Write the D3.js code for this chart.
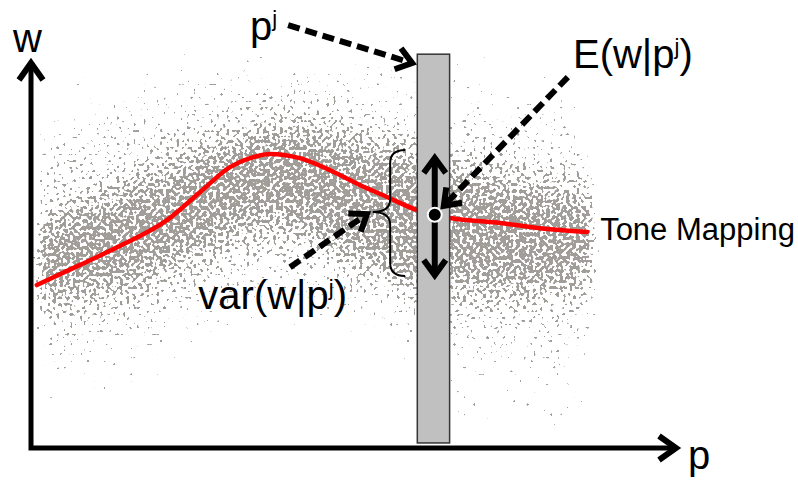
<!DOCTYPE html>
<html>
<head>
<meta charset="utf-8">
<script src="https://cdn.jsdelivr.net/npm/d3@7"></script>
<style>
  html, body { margin: 0; padding: 0; background: #fff; }
  svg { display: block; font-family: "Liberation Sans", Arial, sans-serif; }
</style>
</head>
<body>
<div id="chart"></div>
<script>
let width = 798,
    height = 480;

// tone mapping curve (p, w)
const curveP = [0.9, 7.6, 13.8, 21.1, 26.2, 30.8, 33.9, 37.0, 41.6, 46.3, 50.9, 55.1, 59.8, 62.5, 64.9, 72.6, 80.3, 86.1];
const curveW = [42.0, 47.2, 52.1, 58.8, 66.0, 72.4, 74.7, 75.8, 74.7, 71.6, 67.8, 64.7, 61.3, 60.1, 59.3, 58.0, 56.4, 55.7];

// envelopes of the scatter cloud: sparse outer, medium, dense core
const cloudP  = [0.6, 10.7, 18.4, 26.2, 37.0, 41.6, 57.1, 64.9, 72.6, 81.9, 87.6];
const outerHi = [92.0, 100.0, 104.0, 105.0, 105.5, 105.5, 106.0, 106.0, 104.5, 98.6, 88.0];
const outerLo = [6.0, 8.0, 15.6, 22.8, 28.5, 28.5, 17.7, 2.2, 0.0, 1.0, 17.7];
const midHi   = [78.0, 84.0, 88.0, 91.0, 92.0, 92.0, 89.0, 87.0, 86.0, 83.0, 76.0];
const midLo   = [24.0, 27.0, 31.0, 36.0, 42.0, 42.0, 35.0, 27.0, 22.0, 25.0, 30.0];
const coreHi  = [58.8, 65.2, 70.4, 76.8, 83.2, 83.2, 76.8, 72.9, 70.4, 67.8, 63.9];
const coreLo  = [36.9, 39.4, 43.3, 49.7, 56.2, 54.9, 43.3, 40.7, 39.4, 40.7, 43.3];

// slice p^j
const sliceP = [59.8, 64.8];
const sliceW = [1.3, 101.5];
const meanPoint = { p: 62.5, w: 60.1 };
const spreadW = [43.8, 75.5];
const brace = { p: 55.6, tipP: 52.9, top: 76.8, bottom: 44.3, mid: 60.8 };

// dashed pointer arrows [p0, w0, p1, w1]
const pointers = [
  [39.8, 109.0, 59.0, 99.2],
  [83.1, 95.6, 63.9, 62.4],
  [40.1, 46.6, 52.0, 60.3]
];

// labels
const labels = [
  { text: "w", p: -2.8, w: 102.1, size: 40 },
  { text: "p", p: 101.7, w: -5.4, size: 40 },
  { text: "p", sup: "j", p: 33.9, w: 105.2, size: 40 },
  { text: "E(w|p", sup: "j", after: ")", p: 83.9, w: 97.9, size: 40 },
  { text: "var(w|p", sup: "j", after: ")", p: 25.9, w: 35.8, size: 40 },
  { text: "Tone Mapping", p: 88.1, w: 53.6, size: 31 }
];

const x = d3.scaleLinear().domain([0, 100]).range([31, 677]);
const y = d3.scaleLinear().domain([0, 100]).range([448, 60]);

const svg = d3.select("#chart")
  .append("svg")
  .attr("width", width)
  .attr("height", height)
  .attr("viewBox", [0, 0, width, height]);

const defs = svg.append("defs");

// open chevron heads
defs.append("marker")
  .attr("id", "head")
  .attr("markerUnits", "userSpaceOnUse")
  .attr("viewBox", "-24 -16 30 32")
  .attr("markerWidth", 30).attr("markerHeight", 32)
  .attr("refX", 0).attr("refY", 0)
  .attr("orient", "auto-start-reverse")
  .append("path")
  .attr("d", "M-15,-11L0,0L-15,11")
  .attr("fill", "none")
  .attr("stroke", "#000")
  .attr("stroke-width", 6)
  .attr("stroke-linejoin", "miter");

// speckle filter: noise thresholded by blurred density
const f = defs.append("filter")
  .attr("id", "speckle")
  .attr("filterUnits", "userSpaceOnUse")
  .attr("x", 0).attr("y", 0).attr("width", width).attr("height", height)
  .attr("color-interpolation-filters", "sRGB");
f.append("feTurbulence")
  .attr("type", "fractalNoise")
  .attr("baseFrequency", 0.3)
  .attr("numOctaves", 1)
  .attr("seed", 7)
  .attr("result", "noise");
f.append("feGaussianBlur")
  .attr("in", "SourceAlpha")
  .attr("stdDeviation", "8 20")
  .attr("result", "dens");
f.append("feComposite")
  .attr("in", "dens").attr("in2", "noise")
  .attr("operator", "arithmetic")
  .attr("k1", 0).attr("k2", 0.7).attr("k3", 1).attr("k4", -0.95)
  .attr("result", "mix");
f.append("feColorMatrix")
  .attr("in", "mix")
  .attr("type", "matrix")
  .attr("values", "0 0 0 0 0.63  0 0 0 0 0.62  0 0 0 0 0.6  0 0 0 40 0");

defs.append("clipPath").attr("id", "cloudClip")
  .append("rect")
  .attr("x", x(cloudP[0]) - 2)
  .attr("y", 0)
  .attr("width", x(cloudP[cloudP.length - 1]) - x(cloudP[0]) + 4)
  .attr("height", y(0) - 3);

// scatter cloud
const cloud = svg.append("g").attr("clip-path", "url(#cloudClip)")
  .append("g").attr("filter", "url(#speckle)");

const band = (hi, lo) => d3.area()
  .x((d, i) => x(cloudP[i]))
  .y0((d, i) => y(lo[i]))
  .y1((d, i) => y(hi[i]))
  .curve(d3.curveCatmullRom)(cloudP);

[[outerHi, outerLo, 0.3], [midHi, midLo, 0.15], [coreHi, coreLo, 0.55]].forEach(([hi, lo, o]) => {
  cloud.append("path")
    .attr("d", band(hi, lo))
    .attr("fill", "#000")
    .attr("fill-opacity", o);
});

// tone mapping curve
svg.append("path")
  .datum(curveP.map((p, i) => [p, curveW[i]]))
  .attr("fill", "none")
  .attr("stroke", "#ff0000")
  .attr("stroke-width", 4.5)
  .attr("stroke-linecap", "round")
  .attr("d", d3.line().x(d => x(d[0])).y(d => y(d[1])).curve(d3.curveMonotoneX));

// axes
svg.append("path")
  .attr("d", `M${x(0)},${y(100) + 2}V${y(0)}H${x(100) - 2}`)
  .attr("fill", "none")
  .attr("stroke", "#000")
  .attr("stroke-width", 5)
  .attr("stroke-linejoin", "miter");
svg.append("path")
  .attr("d", `M${x(0) - 12},${y(100) + 20}L${x(0)},${y(100) + 3}L${x(0) + 12},${y(100) + 20}`)
  .attr("fill", "none").attr("stroke", "#000").attr("stroke-width", 6);
svg.append("path")
  .attr("d", `M${x(100) - 18},${y(0) - 12}L${x(100) - 1},${y(0)}L${x(100) - 18},${y(0) + 12}`)
  .attr("fill", "none").attr("stroke", "#000").attr("stroke-width", 6);

// slice bar
svg.append("rect")
  .attr("x", x(sliceP[0]))
  .attr("y", y(sliceW[1]))
  .attr("width", x(sliceP[1]) - x(sliceP[0]))
  .attr("height", y(sliceW[0]) - y(sliceW[1]))
  .attr("fill", "#c0c0c0")
  .attr("stroke", "#333")
  .attr("stroke-width", 1.5);

// spread double arrow
svg.append("line")
  .attr("x1", x(meanPoint.p)).attr("x2", x(meanPoint.p))
  .attr("y1", y(spreadW[1]) + 3).attr("y2", y(spreadW[0]) - 3)
  .attr("stroke", "#000")
  .attr("stroke-width", 6)
  .attr("marker-start", "url(#head)")
  .attr("marker-end", "url(#head)");

svg.append("circle")
  .attr("cx", x(meanPoint.p))
  .attr("cy", y(meanPoint.w))
  .attr("r", 7)
  .attr("fill", "#000")
  .attr("stroke", "#fff")
  .attr("stroke-width", 2);

// brace
const bx = x(brace.p), bt = x(brace.tipP), b0 = y(brace.top), b1 = y(brace.bottom), bm = y(brace.mid);
svg.append("path")
  .attr("d", `M${bx + 15},${b0}Q${bx},${b0} ${bx},${b0 + 13}L${bx},${bm - 13}Q${bx},${bm} ${bt},${bm}` +
             `Q${bx},${bm} ${bx},${bm + 13}L${bx},${b1 - 13}Q${bx},${b1} ${bx + 15},${b1}`)
  .attr("fill", "none")
  .attr("stroke", "#000")
  .attr("stroke-width", 2);

// dashed pointers
svg.append("g")
  .selectAll("line")
  .data(pointers)
  .join("line")
  .attr("x1", d => x(d[0])).attr("y1", d => y(d[1]))
  .attr("x2", d => x(d[2])).attr("y2", d => y(d[3]))
  .attr("stroke", "#000")
  .attr("stroke-width", 6)
  .attr("stroke-dasharray", "12,6")
  .attr("marker-end", "url(#head)");

// labels
labels.forEach(l => {
  const t = svg.append("text")
    .attr("x", x(l.p))
    .attr("y", y(l.w))
    .attr("font-size", l.size)
    .attr("fill", "#000")
    .text(l.text);
  if (l.sup) {
    t.append("tspan").attr("font-size", 22).attr("dy", -14).text(l.sup);
    if (l.after) t.append("tspan").attr("font-size", l.size).attr("dy", 14).text(l.after);
  }
});
</script>
</body>
</html>
